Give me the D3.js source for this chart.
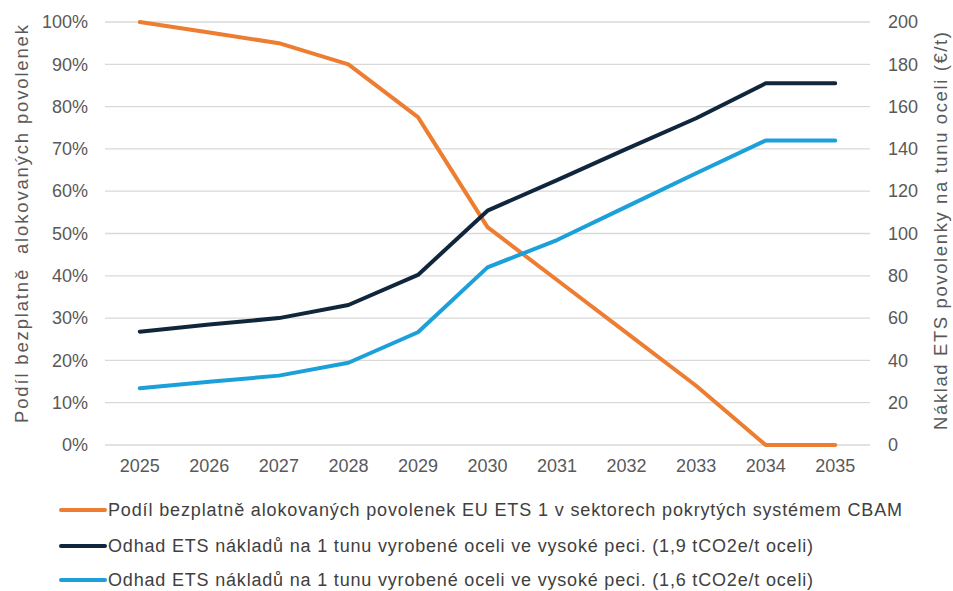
<!DOCTYPE html>
<html>
<head>
<meta charset="utf-8">
<script src="https://cdn.jsdelivr.net/npm/d3@7"></script>
<style>
  html, body { margin: 0; padding: 0; background: #ffffff; }
  svg { display: block; font-family: "Liberation Sans", Arial, sans-serif; }
</style>
</head>
<body>
<svg id="chart" width="953" height="591"></svg>
<script>
// Years on the category axis
const years = [2025, 2026, 2027, 2028, 2029, 2030, 2031, 2032, 2033, 2034, 2035];

// Share of free EU ETS allowances in CBAM sectors (left axis, fraction)
const freeShare = [1.00, 0.975, 0.95, 0.90, 0.775, 0.515, 0.39, 0.265, 0.14, 0.0, 0.0];

// Estimated ETS cost per tonne of blast-furnace steel, €/t (right axis)
const cost19 = [53.6, 57.0, 60.0, 66.2, 80.4, 110.8, 125.2, 140.0, 154.5, 171.0, 171.0];
const cost16 = [26.8, 29.9, 32.8, 38.9, 53.3, 84.0, 96.9, 112.7, 128.5, 144.0, 144.0];

const leftTicks = [0, 0.1, 0.2, 0.3, 0.4, 0.5, 0.6, 0.7, 0.8, 0.9, 1.0];
const rightTicks = [0, 20, 40, 60, 80, 100, 120, 140, 160, 180, 200];

const seriesNames = [
  "Podíl bezplatně alokovaných povolenek EU ETS 1 v sektorech pokrytých systémem CBAM",
  "Odhad ETS nákladů na 1 tunu vyrobené oceli ve vysoké peci. (1,9 tCO2e/t oceli)",
  "Odhad ETS nákladů na 1 tunu vyrobené oceli ve vysoké peci. (1,6 tCO2e/t oceli)"
];
const seriesColors = ["#ED7D31", "#10263D", "#1BA0DA"];

const svg = d3.select("#chart");
const plot = { left: 105, right: 870, top: 22, bottom: 445 };

const x = d3.scaleBand().domain(years).range([plot.left, plot.right]);
const xc = d => x(d) + x.bandwidth() / 2;
const yL = d3.scaleLinear().domain([0, 1]).range([plot.bottom, plot.top]);
const yR = d3.scaleLinear().domain([0, 200]).range([plot.bottom, plot.top]);

const textColor = "#595959";
const tickFont = 18;

// Horizontal gridlines
svg.append("g")
  .selectAll("line")
  .data(leftTicks)
  .join("line")
  .attr("x1", plot.left).attr("x2", plot.right)
  .attr("y1", d => yL(d)).attr("y2", d => yL(d))
  .attr("stroke", "#d9d9d9").attr("stroke-width", 1.3);

// Left axis (percent)
const axL = svg.append("g")
  .attr("transform", `translate(${plot.left - 17},0)`)
  .call(d3.axisLeft(yL).tickValues(leftTicks).tickSize(0).tickPadding(0).tickFormat(d3.format(".0%")));
axL.select(".domain").remove();
axL.selectAll("text").attr("fill", textColor).style("font-size", tickFont + "px").style("font-family", "Liberation Sans, Arial, sans-serif");

// Right axis (€/t)
const axR = svg.append("g")
  .attr("transform", `translate(${plot.right + 18},0)`)
  .call(d3.axisRight(yR).tickValues(rightTicks).tickSize(0).tickPadding(0));
axR.select(".domain").remove();
axR.selectAll("text").attr("fill", textColor).style("font-size", tickFont + "px").style("font-family", "Liberation Sans, Arial, sans-serif");

// Bottom axis (years)
const axB = svg.append("g")
  .attr("transform", `translate(0,${plot.bottom + 14})`)
  .call(d3.axisBottom(x).tickSize(0).tickPadding(0));
axB.select(".domain").remove();
axB.selectAll("text").attr("fill", textColor).style("font-size", tickFont + "px").style("font-family", "Liberation Sans, Arial, sans-serif");

// Axis titles
svg.append("text")
  .attr("transform", `translate(28,224) rotate(-90)`)
  .attr("text-anchor", "middle")
  .attr("fill", textColor)
  .attr("textLength", 398)
  .attr("lengthAdjust", "spacing")
  .style("font-size", "18.5px")
  .style("white-space", "pre")
  .text("Podíl bezplatně  alokovaných povolenek");

svg.append("text")
  .attr("transform", `translate(947,231) rotate(-90)`)
  .attr("text-anchor", "middle")
  .attr("fill", textColor)
  .attr("textLength", 398)
  .attr("lengthAdjust", "spacing")
  .style("font-size", "18.5px")
  .text("Náklad ETS povolenky na tunu oceli (€/t)");

// Series lines
const lineL = d3.line().x((d, i) => xc(years[i])).y(d => yL(d));
const lineR = d3.line().x((d, i) => xc(years[i])).y(d => yR(d));

const seriesPaths = [
  lineL(freeShare),
  lineR(cost19),
  lineR(cost16)
];

svg.append("g")
  .selectAll("path")
  .data(seriesPaths)
  .join("path")
  .attr("d", d => d)
  .attr("fill", "none")
  .attr("stroke", (d, i) => seriesColors[i])
  .attr("stroke-width", 4)
  .attr("stroke-linejoin", "round")
  .attr("stroke-linecap", "round");

// Legend
const legendRows = [510, 546, 580];
const legendLengths = [794, 705, 705];
const legend = svg.append("g")
  .selectAll("g")
  .data(seriesNames)
  .join("g")
  .attr("transform", (d, i) => `translate(0,${legendRows[i]})`);

legend.append("line")
  .attr("x1", 61).attr("x2", 105)
  .attr("y1", 0).attr("y2", 0)
  .attr("stroke", (d, i) => seriesColors[i])
  .attr("stroke-width", 4)
  .attr("stroke-linecap", "round");

legend.append("text")
  .attr("x", 108)
  .attr("y", 6)
  .attr("fill", "#404040")
  .attr("textLength", (d, i) => legendLengths[i])
  .attr("lengthAdjust", "spacing")
  .style("font-size", "18px")
  .text(d => d);
</script>
</body>
</html>
